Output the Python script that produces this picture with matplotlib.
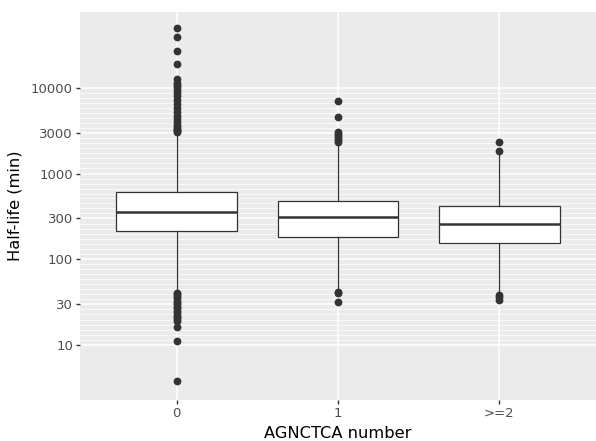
import matplotlib
matplotlib.use("Agg")
import matplotlib.pyplot as plt
from matplotlib.ticker import NullFormatter
import numpy as np

# box statistics (half-life, minutes)
groups = ["0", "1", ">=2"]
q1 = [213, 183, 157]
med = [358, 308, 260]
q3 = [613, 481, 414]
whislo = [42.6, 45, 40.4]
whishi = [2950, 2250, 1720]

fliers_0 = [49200, 38700, 27000, 18900, 12600, 11500, 10800, 10100, 9500,
            8800, 8000, 7300, 6500, 5800, 5200, 4700, 4300, 4000, 3700,
            3500, 3300, 3200, 3100, 3020,
            41, 39, 37, 35, 33, 31, 30, 28, 27, 25, 24, 22, 21, 20, 19.2,
            16.1, 11.2, 3.84]
fliers_1 = [7050, 4590, 3070, 2900, 2750, 2600, 2450, 2350, 41.2, 40, 32.0]
fliers_2 = [2310, 1810, 38, 36, 34]
fliers = [fliers_0, fliers_1, fliers_2]

major_breaks = [10, 30, 100, 300, 1000, 3000, 10000]

stats = []
for i in range(len(groups)):
    stats.append(dict(med=med[i], q1=q1[i], q3=q3[i], whislo=whislo[i],
                      whishi=whishi[i], fliers=fliers[i]))

fig = plt.figure(figsize=(5.96, 4.41), dpi=100)
ax = fig.add_axes([80 / 596, 41 / 441, 516 / 596, 388 / 441])
ax.set_facecolor("#EBEBEB")

edge = "#333333"
ax.bxp(stats, positions=range(len(groups)), widths=0.75, patch_artist=True,
       showcaps=False,
       boxprops=dict(facecolor="white", edgecolor=edge, linewidth=0.9),
       medianprops=dict(color=edge, linewidth=1.8),
       whiskerprops=dict(color=edge, linewidth=0.9),
       flierprops=dict(marker="o", markersize=4.6, markerfacecolor=edge,
                       markeredgecolor=edge, linestyle="none"),
       zorder=3)

ax.set_yscale("log")
ax.set_ylim(10 ** 0.360, 10 ** 4.884)
ax.set_xlim(-0.6, 2.6)

# minor grid: evenly spaced in log space between major breaks
minor = []
logs = np.log10(major_breaks)
for a, b in zip(logs[:-1], logs[1:]):
    n = int(round((b - a) / 0.058))
    minor.extend(10 ** np.linspace(a, b, n + 1)[1:-1])
ax.set_yticks(major_breaks)
ax.set_yticklabels([str(v) for v in major_breaks])
ax.set_yticks(minor, minor=True)
ax.yaxis.set_minor_formatter(NullFormatter())
ax.set_xticks(range(len(groups)))
ax.set_xticklabels(groups)

ax.grid(True, which="major", color="white", linewidth=1.1, zorder=0)
ax.grid(True, which="minor", axis="y", color="white", linewidth=0.5, zorder=0)
ax.set_axisbelow(True)

for s in ax.spines.values():
    s.set_visible(False)
ax.tick_params(which="major", length=3, width=1, color="#333333",
               labelcolor="#4D4D4D", labelsize=9.5, pad=2)
ax.tick_params(which="minor", length=0)

ax.set_xlabel("AGNCTCA number", fontsize=11.7, labelpad=4)
ax.set_ylabel("Half-life (min)", fontsize=11.7, labelpad=6)

fig.savefig("out.png", dpi=100)
